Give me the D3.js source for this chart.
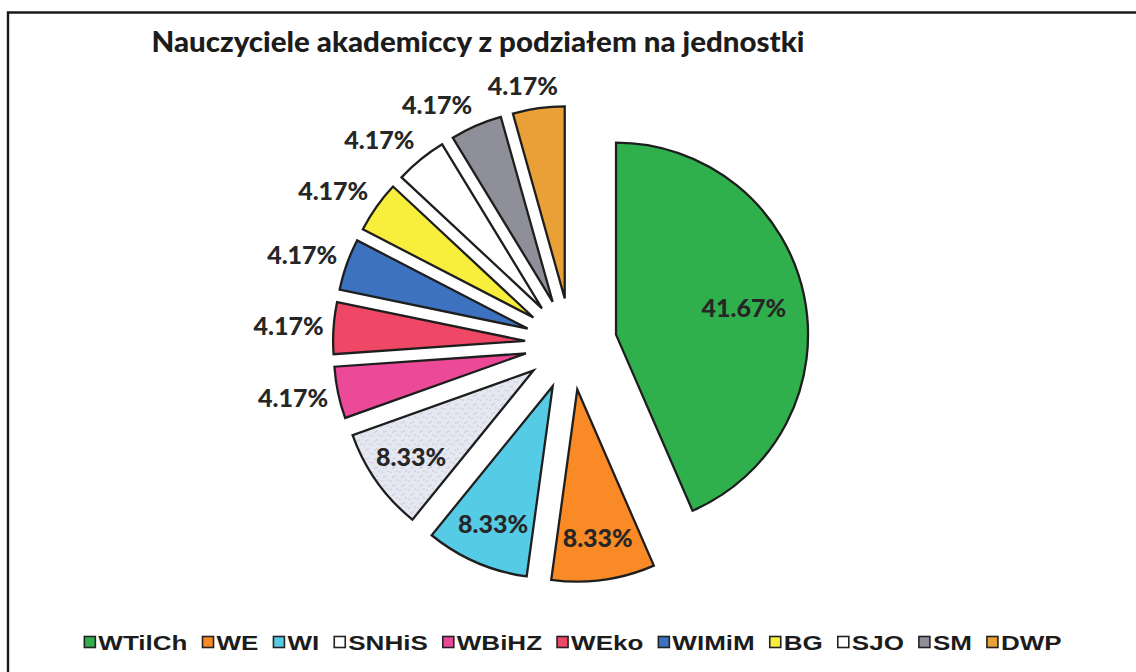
<!DOCTYPE html>
<html>
<head>
<meta charset="utf-8">
<script src="https://cdn.jsdelivr.net/npm/d3@7"></script>
<style>
  body { margin: 0; background: #fff; }
  svg { display: block; }
</style>
</head>
<body>
<div id="chart"></div>
<script>
// Chart data
const title = "Nauczyciele akademiccy z podziałem na jednostki";
const units = ["WTilCh", "WE", "WI", "SNHiS", "WBiHZ", "WEko", "WIMiM", "BG", "SJO", "SM", "DWP"];
const shares = [41.67, 8.33, 8.33, 8.33, 4.17, 4.17, 4.17, 4.17, 4.17, 4.17, 4.17];
const shareLabels = ["41.67%", "8.33%", "8.33%", "8.33%", "4.17%", "4.17%", "4.17%", "4.17%", "4.17%", "4.17%", "4.17%"];
const colors = ["#30b04c", "#f98a26", "#56cbe6", "url(#dots)", "#ec4a98", "#ef4766", "#3d72c0", "#f8ef3c", "#ffffff", "#8e8f99", "#e9a037"];
const legendColors = ["#30b04c", "#f98a26", "#56cbe6", "#ffffff", "#ec4a98", "#ef4766", "#3d72c0", "#f8ef3c", "#ffffff", "#8e8f99", "#e9a037"];

const width = 1136;
const height = 672;

const svg = d3.select("#chart").append("svg")
    .attr("width", width)
    .attr("height", height);

// speckled fill used for SNHiS
const pat = svg.append("defs").append("pattern")
    .attr("id", "dots")
    .attr("patternUnits", "userSpaceOnUse")
    .attr("width", 9)
    .attr("height", 9);
pat.append("rect").attr("width", 9).attr("height", 9).attr("fill", "#e5e7f1");
[[1, 2], [5, 6], [7, 1], [3, 7]].forEach(p => {
    pat.append("rect").attr("x", p[0]).attr("y", p[1]).attr("width", 1).attr("height", 1).attr("fill", "#a9adbd");
});

// chart frame (top and left edge visible)
svg.append("path")
    .attr("d", "M8,672 L8,12.5 L1136,12.5")
    .attr("fill", "none")
    .attr("stroke", "#1a1a1a")
    .attr("stroke-width", 2.4);

svg.append("text")
    .attr("x", 478)
    .attr("y", 52)
    .attr("text-anchor", "middle")
    .style("font-family", "Lato, 'Open Sans', sans-serif")
    .style("font-weight", 900)
    .style("font-size", "29px")
    .attr("fill", "#1c1c1c")
    .attr("textLength", 653)
    .attr("lengthAdjust", "spacingAndGlyphs")
    .text(title);

// Pie
const cx = 571, cy = 344, radius = 192, explode = 46;

const data = units.map((u, i) => ({ unit: u, value: shares[i], label: shareLabels[i], color: colors[i] }));

const pie = d3.pie().sort(null).value(d => d.value);
const arc = d3.arc().innerRadius(0).outerRadius(radius);

const slices = svg.append("g").selectAll("g")
    .data(pie(data))
    .enter().append("g")
    .attr("transform", d => {
        const mid = (d.startAngle + d.endAngle) / 2;
        return `translate(${cx + explode * Math.sin(mid)},${cy - explode * Math.cos(mid)})`;
    });

slices.append("path")
    .attr("d", arc)
    .attr("fill", d => d.data.color)
    .attr("stroke", "#1e1e1e")
    .attr("stroke-width", 2.3)
    .attr("stroke-linejoin", "miter");

const clamp = v => Math.max(-1, Math.min(1, v));

slices.append("text")
    .attr("text-anchor", "middle")
    .attr("dy", "0.36em")
    .style("font-family", "Lato, 'Open Sans', sans-serif")
    .style("font-weight", 900)
    .style("font-size", "25px")
    .attr("fill", "#262626")
    .text(d => d.data.label)
    .each(function(d) {
        const mid = (d.startAngle + d.endAngle) / 2;
        const dx = Math.sin(mid), dy = -Math.cos(mid);
        const big = (d.endAngle - d.startAngle) > 0.4;
        let x, y;
        if (big) {
            const r = radius * (d.data.value > 20 ? 0.68 : 0.78);
            x = r * dx; y = r * dy;
        } else {
            // outside end: box pushed away from the rim
            const hw = this.getComputedTextLength() / 2, hh = 12;
            const r = radius + 10;
            x = r * dx + clamp(3 * dx) * hw;
            y = r * dy + clamp(1.5 * dy) * hh;
        }
        d3.select(this).attr("x", x).attr("y", y);
    });

// Legend
const legend = svg.append("g");
const legendScale = 1.24;
const items = legend.selectAll("g")
    .data(units)
    .enter().append("g");

items.append("rect")
    .attr("width", 11)
    .attr("height", 11)
    .attr("y", -5.5)
    .attr("fill", (d, i) => legendColors[i])
    .attr("stroke", "#222")
    .attr("stroke-width", 1.6);

items.append("text")
    .attr("transform", `translate(14,0) scale(${legendScale},1)`)
    .attr("dy", "0.36em")
    .style("font-family", "'Liberation Sans', Arial, sans-serif")
    .style("font-weight", "bold")
    .style("font-size", "21px")
    .attr("fill", "#1c1c1c")
    .text(d => d);

const gap = 15;
let pos = 0;
const offsets = [];
items.each(function() {
    const w = 14 + d3.select(this).select("text").node().getComputedTextLength() * legendScale;
    offsets.push(pos);
    pos += w + gap;
});
const total = pos - gap;
const legendStart = 573 - total / 2;
items.attr("transform", (d, i) => `translate(${legendStart + offsets[i]},642)`);
</script>
</body>
</html>
